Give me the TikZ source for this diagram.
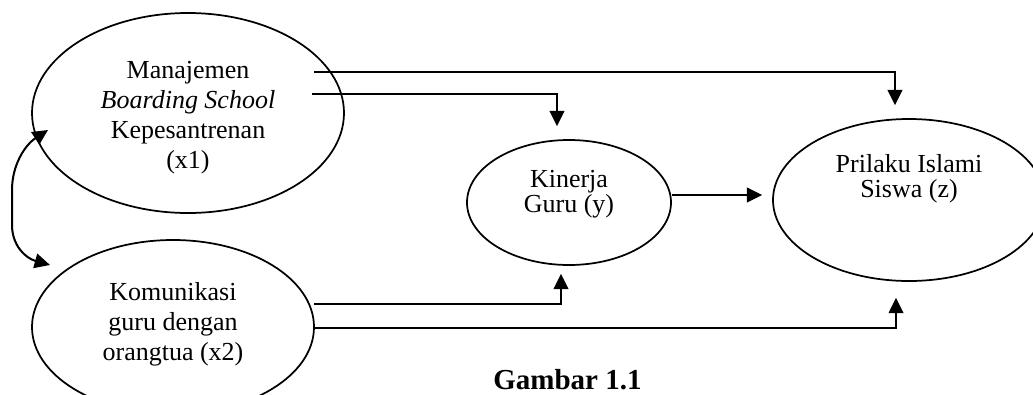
\documentclass[tikz,border=0pt]{standalone}
\usepackage{fontspec}
\setmainfont{Liberation Serif}
\usetikzlibrary{arrows.meta,calc,shapes.geometric}
\begin{document}
\begin{tikzpicture}[x=0.75pt,y=-0.75pt,
  oval/.style={draw,ellipse,line width=1.3pt,inner sep=0pt},
  lbl/.style={align=center,inner sep=0pt,font=\fontsize{19.5}{22.5}\selectfont},
  lblt/.style={align=center,inner sep=0pt,font=\fontsize{19.5}{18.5}\selectfont},
  tip/.tip={Triangle[length=11.5pt,width=11pt]},
  conn/.style={line width=1.5pt,-tip},
  dconn/.style={line width=1.5pt,tip-tip},
]
\useasboundingbox (0,0) rectangle (1033,394);
\clip (0,0) rectangle (1033,394);
% ellipses
\node[oval,minimum width=234pt,minimum height=150pt] (x1) at (188,113) {};
\node[oval,minimum width=211.5pt,minimum height=130.5pt] (x2) at (173,327) {};
\node[oval,minimum width=153pt,minimum height=93.75pt] (ky) at (569,202.5) {};
\node[oval,minimum width=204pt,minimum height=121.5pt] (z) at (909,200) {};
% texts
\node[lbl] (x1t) at (188,117.5) {Manajemen\\\textit{Boarding School}\\Kepesantrenan\\(x1)};
\node[lbl] (x2t) at (173,324) {Komunikasi\\guru dengan\\orangtua (x2)};
\node[lblt] (kyt) at (569,194.5) {Kinerja\\Guru (y)};
\node[lblt] (zt) at (909,179) {Prilaku Islami\\Siswa (z)};
% connectors
\draw[conn] ($(x1.center)+(126,-41)$) -| ($(z.north)+(-14,-13)$);
\draw[conn] ($(x1.center)+(124,-19)$) -| ($(ky.north)+(-12,-13)$);
\draw[conn] ($(ky.east)+(0,-7.5)$) -- ($(z.west)+(-10,-5)$);
\draw[conn] ($(x2.center)+(141,-23)$) -| ($(ky.south)+(-8,8)$);
\draw[conn] ($(x2.center)+(141,1)$) -| ($(z.south)+(-13,16)$);
% correlation
\coordinate (c1) at ($(x1.center)+(-140,17)$);
\coordinate (c2) at ($(x2.center)+(-123,-62)$);
\draw[dconn] (c1) .. controls (25,145) and (12,165) .. (12,190) -- (12,225) .. controls (12,245) and (25,258) .. (c2);
% caption
\node[font=\bfseries\fontsize{21.75}{26}\selectfont,anchor=base,inner sep=0pt] (cap) at (567.5,389) {Gambar 1.1};
\end{tikzpicture}
\end{document}
